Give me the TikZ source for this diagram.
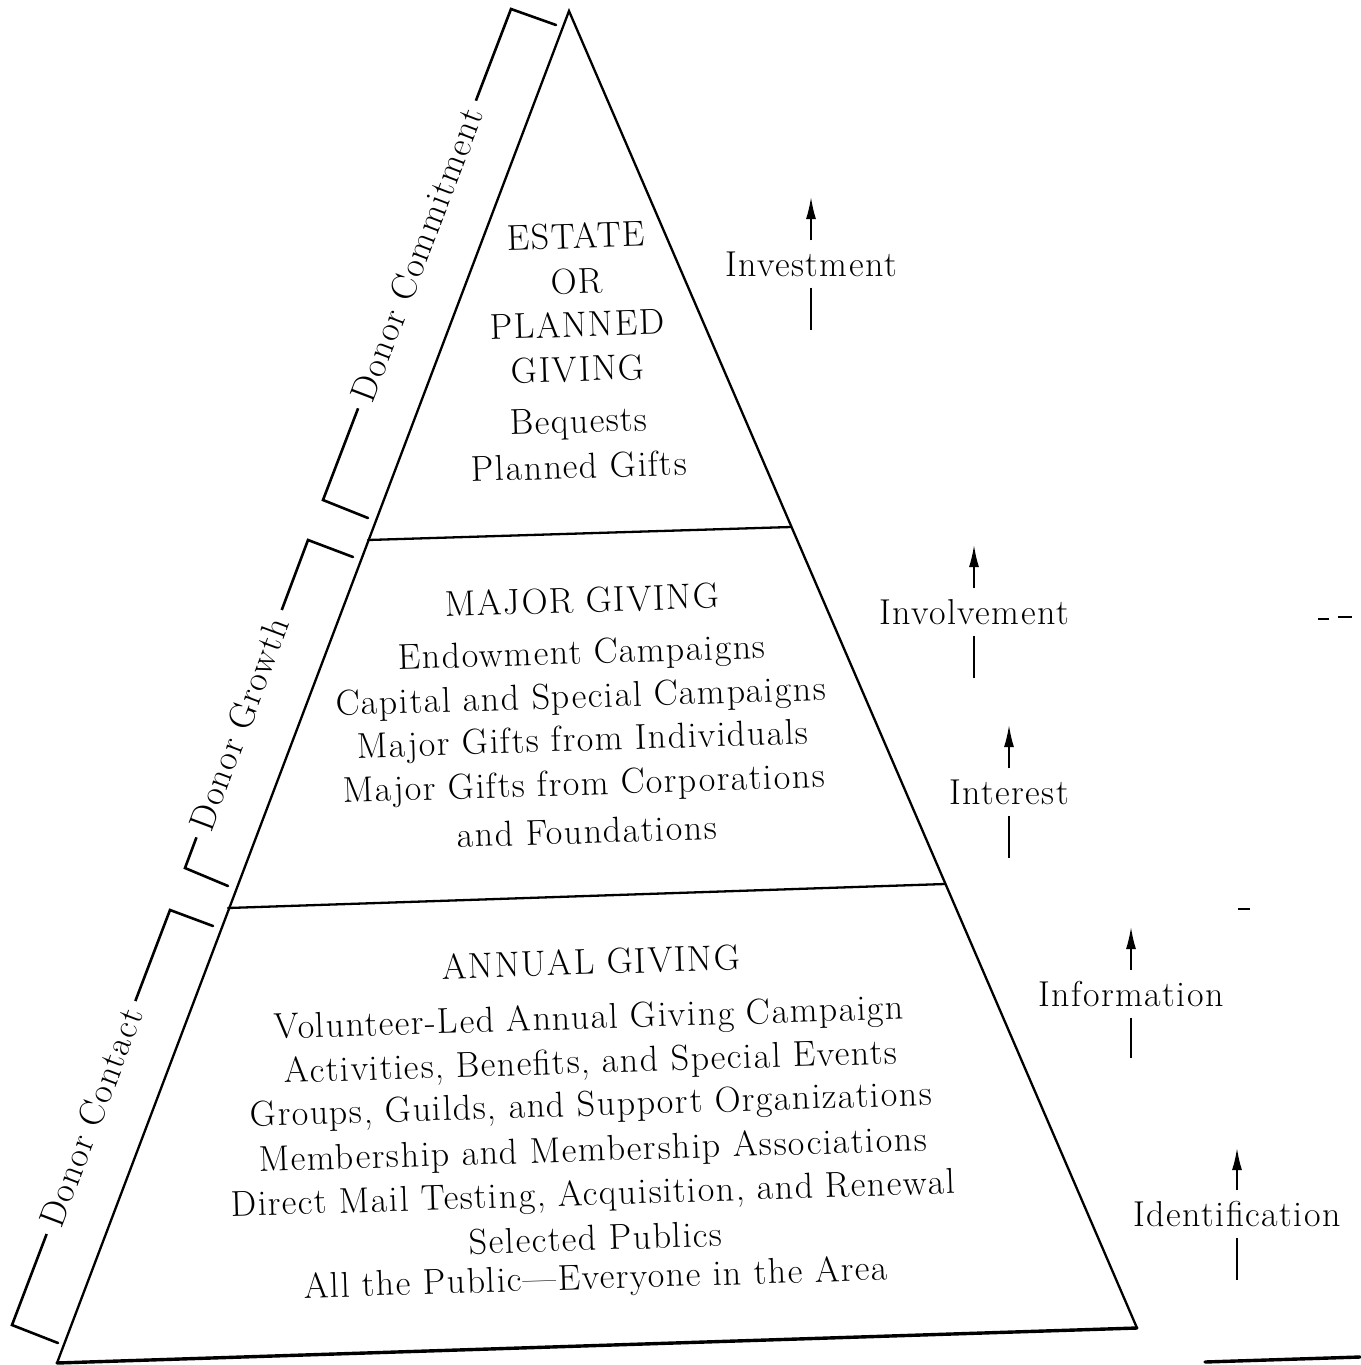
\documentclass[tikz,border=0pt]{standalone}
\usepackage{fontspec}
\setmainfont{Latin Modern Roman}[LetterSpace=4]
\usetikzlibrary{arrows.meta}
\begin{document}
\begin{tikzpicture}[x=1pt,y=-1pt,
  lbl/.style={font=\fontsize{36}{40}\selectfont, inner sep=0pt},
  pyr/.style={lbl, rotate=1.8},
  side/.style={lbl, inner sep=11pt},
  brtext/.style={lbl, fill=white, inner xsep=9pt, inner ysep=2pt, sloped},
  edge/.style={line width=2.3pt, line join=miter, line cap=round},
  base/.style={line width=3.4pt, line cap=round},
  brk/.style={line width=2.6pt, line join=miter, line cap=round},
  stem/.style={line width=1.8pt},
  arr/.style={line width=1.8pt, -{Latex[length=22pt,width=10pt]}},
  speck/.style={line width=1.6pt}
]
\useasboundingbox (0,0) rectangle (1360,1365);

% pyramid
\coordinate (apex) at (569,11);
\coordinate (bl) at (57,1363);
\coordinate (br) at (1137,1328);
\coordinate (d1l) at (368,540);
\coordinate (d1r) at (791,527);
\coordinate (d2l) at (228,908);
\coordinate (d2r) at (945,884);
\draw[edge] (bl) -- (apex) -- (br);
\draw[base] (bl) -- (br);
\draw[edge] (d1l) -- (d1r);
\draw[edge] (d2l) -- (d2r);

% brackets
\coordinate (cA) at (511,9);   \coordinate (cAt) at (556,25);
\coordinate (cB) at (323,500); \coordinate (cBt) at (368,518);
\coordinate (gA) at (308,540); \coordinate (gAt) at (353,557);
\coordinate (gB) at (185,868); \coordinate (gBt) at (228,886);
\coordinate (kA) at (170,910); \coordinate (kAt) at (213,926);
\coordinate (kB) at (12,1325); \coordinate (kBt) at (58,1343);
\draw[brk] (cAt) -- (cA) -- (cB) node[brtext, pos=0.5] (tcommit) {Donor Commitment} -- (cBt);
\draw[brk] (gAt) -- (gA) -- (gB) node[brtext, pos=0.56] (tgrowth) {Donor Growth} -- (gBt);
\draw[brk] (kAt) -- (kA) -- (kB) node[brtext, pos=0.5] (tcontact) {Donor Contact} -- (kBt);

% top section
\node[pyr] (t1) at (576,236) {ESTATE};
\node[pyr] (t2) at (577,281) {OR};
\node[pyr] (t3) at (577,324) {PLANNED};
\node[pyr] (t4) at (578,369) {GIVING};
\node[pyr] (t5) at (579,424) {Bequests};
\node[pyr] (t6) at (579,466) {Planned Gifts};

% middle section
\node[pyr] (m1) at (582,600) {MAJOR GIVING};
\node[pyr] (m2) at (582,655) {Endowment Campaigns};
\node[pyr] (m3) at (581,699) {Capital and Special Campaigns};
\node[pyr] (m4) at (583,742) {Major Gifts from Individuals};
\node[pyr] (m5) at (584,786) {Major Gifts from Corporations};
\node[pyr] (m6) at (587,831) {and Foundations};

% bottom section
\node[pyr] (b1) at (591,962) {ANNUAL GIVING};
\node[pyr] (b2) at (589,1020) {Volunteer-Led Annual Giving Campaign};
\node[pyr] (b3) at (591,1064) {Activities, Benefits, and Special Events};
\node[pyr] (b4) at (591,1107) {Groups, Guilds, and Support Organizations};
\node[pyr] (b5) at (593,1152) {Membership and Membership Associations};
\node[pyr] (b6) at (593,1196) {Direct Mail Testing, Acquisition, and Renewal};
\node[pyr] (b7) at (596,1238) {Selected Publics};
\node[pyr] (b8) at (596,1280) {All the Public—Everyone in the Area};

% right-hand arrows
\node[side] (inv) at (811,264) {Investment};
\coordinate (invtip) at (809,197); \coordinate (invlow) at (811,330);
\draw[arr] (inv.north) -- (inv.north |- invtip);
\draw[stem] (inv.south) -- (inv.south |- invlow);

\node[side] (invo) at (974,612) {Involvement};
\coordinate (invotip) at (973,545); \coordinate (involow) at (975,678);
\draw[arr] (invo.north) -- (invo.north |- invotip);
\draw[stem] (invo.south) -- (invo.south |- involow);

\node[side] (intr) at (1009,792) {Interest};
\coordinate (intrtip) at (1007,725); \coordinate (intrlow) at (1010,858);
\draw[arr] (intr.north) -- (intr.north |- intrtip);
\draw[stem] (intr.south) -- (intr.south |- intrlow);

\node[side] (info) at (1131,994) {Information};
\coordinate (infotip) at (1130,927); \coordinate (infolow) at (1133,1058);
\draw[arr] (info.north) -- (info.north |- infotip);
\draw[stem] (info.south) -- (info.south |- infolow);

\node[side] (iden) at (1237,1214) {Identification};
\coordinate (identip) at (1235,1148); \coordinate (idenlow) at (1237,1280);
\draw[arr] (iden.north) -- (iden.north |- identip);
\draw[stem] (iden.south) -- (iden.south |- idenlow);

% scan marks at the edge
\coordinate (s1a) at (1318,619); \coordinate (s1b) at (1329,619);
\coordinate (s2a) at (1338,617); \coordinate (s2b) at (1352,617);
\coordinate (s3a) at (1238,909); \coordinate (s3b) at (1250,909);
\coordinate (s4a) at (1205,1362); \coordinate (s4b) at (1360,1357);
\draw[speck] (s1a) -- (s1b);
\draw[speck] (s2a) -- (s2b);
\draw[speck] (s3a) -- (s3b);
\draw[base] (s4a) -- (s4b);
\end{tikzpicture}
\end{document}
